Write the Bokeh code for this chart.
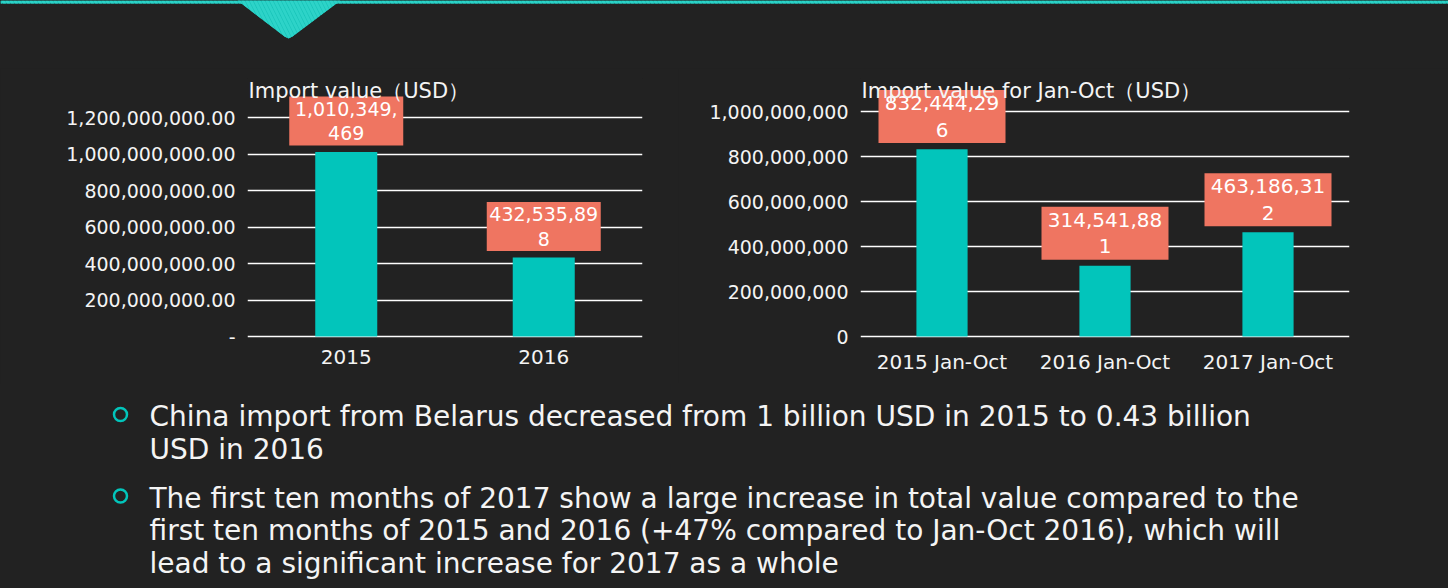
from bokeh.plotting import figure
from bokeh.layouts import column, row
from bokeh.models import ColumnDataSource, FixedTicker, Label, Range1d, FactorRange
from bokeh.transform import dodge
from bokeh.embed import file_html
from bokeh.resources import INLINE
from bokeh.core.properties import value

# ---------------- data ----------------
years = ["2015", "2016"]
import_value = [1010349469, 432535898]

jan_oct_periods = ["2015 Jan-Oct", "2016 Jan-Oct", "2017 Jan-Oct"]
jan_oct_value = [832444296, 314541881, 463186312]

left_ticks = [0, 200000000, 400000000, 600000000, 800000000, 1000000000, 1200000000]
left_tick_labels = ["-", "200,000,000.00", "400,000,000.00", "600,000,000.00",
                    "800,000,000.00", "1,000,000,000.00", "1,200,000,000.00"]
right_ticks = [0, 200000000, 400000000, 600000000, 800000000, 1000000000]
right_tick_labels = ["0", "200,000,000", "400,000,000", "600,000,000",
                     "800,000,000", "1,000,000,000"]

left_title = "Import value\uff08USD\uff09"
right_title = "Import value for Jan-Oct\uff08USD\uff09"

bullets = [
    ["China import from Belarus decreased from 1 billion USD in 2015 to 0.43 billion",
     "USD in 2016"],
    ["The first ten months of 2017 show a large increase in total value compared to the",
     "first ten months of 2015 and 2016 (+47% compared to Jan-Oct 2016), which will",
     "lead to a significant increase for 2017 as a whole"],
]

# ---------------- style ----------------
BG = "#222222"
TEAL = "#02C5BB"
SALMON = "#EF7561"
WHITE = "#F4F4F4"
FONT = "DejaVu Sans"
W = 1448
HEADER_H = 68
CHART_H = 315
TEXT_H = 205
B_TOP = 10      # frame top inside chart figure
B_BOTTOM = 45   # space under frame for category labels
ZERO_ABOVE_BOTTOM = 2  # px between frame bottom and the zero line


def wrap_label(v, n=10):
    s = f"{v:,}"
    return s[:n] + "\n" + s[n:] if len(s) > n else s


def make_chart(cats, vals, ticks, tick_labels, title, width, b_left, b_right,
               px_per_unit, lab_size, box_w, box_h, box_off_px, title_px_from_zero):
    frame_h = CHART_H - B_TOP - B_BOTTOM
    y_start = -ZERO_ABOVE_BOTTOM / px_per_unit
    y_end = (frame_h - ZERO_ABOVE_BOTTOM) / px_per_unit
    src = ColumnDataSource(dict(cat=cats, val=vals, lab=[wrap_label(v) for v in vals]))
    p = figure(x_range=FactorRange(*cats), y_range=Range1d(y_start, y_end),
               width=width, height=CHART_H, output_backend="svg", toolbar_location=None,
               min_border_left=b_left, min_border_right=b_right,
               min_border_top=B_TOP, min_border_bottom=B_BOTTOM)
    p.background_fill_color = BG
    p.border_fill_color = BG
    p.outline_line_color = None

    p.vbar(x="cat", top="val", bottom=0, width=0.314, source=src,
           fill_color=TEAL, line_color=None)

    off = box_off_px / px_per_unit
    p.rect(x="cat", y=dodge("val", off), width=box_w, height=box_h,
           width_units="screen", height_units="screen", source=src,
           fill_color=SALMON, line_color=None)
    p.text(x="cat", y=dodge("val", off), text="lab", source=src,
           text_align="center", text_baseline="middle", text_color="white",
           text_font=value(FONT), text_font_size=lab_size, text_line_height=1.1)

    ticker = FixedTicker(ticks=ticks)
    p.yaxis.ticker = ticker
    p.ygrid.ticker = ticker
    p.yaxis.major_label_overrides = {t: l for t, l in zip(ticks, tick_labels)}
    p.xgrid.grid_line_color = None
    p.ygrid.grid_line_color = "#FFFFFF"
    p.ygrid.grid_line_width = 1.5

    for ax in (p.xaxis, p.yaxis):
        ax.axis_line_color = None
        ax.major_tick_line_color = None
        ax.minor_tick_line_color = None
        ax.major_tick_out = 0
        ax.major_tick_in = 0
        ax.major_label_text_color = WHITE
        ax.major_label_text_font = FONT
    p.yaxis.major_label_text_font_size = "19px"
    p.xaxis.major_label_text_font_size = "20px"
    p.yaxis.major_label_standoff = 12
    p.xaxis.major_label_standoff = 11

    p.add_layout(Label(x=0, y=title_px_from_zero / px_per_unit, x_offset=1,
                       text=title, text_align="left", text_baseline="middle",
                       text_color=WHITE, text_font=FONT, text_font_size="21px"))
    return p


chart1 = make_chart(years, import_value, left_ticks, left_tick_labels, left_title,
                    width=678, b_left=247, b_right=36, px_per_unit=219 / 1.2e9,
                    lab_size="19px", box_w=114, box_h=49, box_off_px=31,
                    title_px_from_zero=246)
chart2 = make_chart(jan_oct_periods, jan_oct_value, right_ticks, right_tick_labels,
                    right_title, width=W - 678, b_left=182, b_right=99,
                    px_per_unit=225 / 1.0e9, lab_size="20px", box_w=127, box_h=53,
                    box_off_px=32.6, title_px_from_zero=246)

# ---------------- header ----------------
header = figure(width=W, height=HEADER_H, x_range=Range1d(0, W), y_range=Range1d(HEADER_H, 0),
                output_backend="svg", toolbar_location=None,
                x_axis_location=None, y_axis_location=None,
                min_border=0, min_border_left=0, min_border_right=0,
                min_border_top=0, min_border_bottom=0)
header.background_fill_color = BG
header.border_fill_color = BG
header.outline_line_color = None
header.grid.visible = False
stripe = dict(fill_color="#14C2B7", line_color=None, hatch_pattern="left_diagonal_line",
              hatch_color="#2DD3C8", hatch_weight=3, hatch_scale=8)
header.quad(left=0, right=W, top=0, bottom=3, **stripe)
header.patch([237, 340, 292, 288, 284], [0, 0, 36, 38, 36], **stripe)

# ---------------- bullet text ----------------
txt = figure(width=W, height=TEXT_H, x_range=Range1d(0, W), y_range=Range1d(TEXT_H, 0),
             output_backend="svg", toolbar_location=None,
             x_axis_location=None, y_axis_location=None,
             min_border=0, min_border_left=0, min_border_right=0,
             min_border_top=0, min_border_bottom=0)
txt.background_fill_color = BG
txt.border_fill_color = BG
txt.outline_line_color = None
txt.grid.visible = False

bullet_x, text_x = 120, 149
first_line_y = 33
line_gap = 32.5
para_gap = 49
lx, ly, lt, bx, by = [], [], [], [], []
y = first_line_y
for para in bullets:
    bx.append(bullet_x)
    by.append(y - 2)
    for i, line in enumerate(para):
        lx.append(text_x)
        ly.append(y)
        lt.append(line)
        if i < len(para) - 1:
            y += line_gap
    y += para_gap
txt.scatter(x=bx, y=by, marker="circle", size=13, fill_color=None,
            line_color=TEAL, line_width=2.5)
txt.text(x=lx, y=ly, text=lt, text_align="left", text_baseline="middle",
         text_color=WHITE, text_font=value(FONT), text_font_size="28px")

layout = column(header, row(chart1, chart2), txt)

html = file_html(layout, INLINE, title="China import from Belarus")
html = html.replace("<head>", "<head><style>html,body{background-color:#222222;}</style>", 1)
with open("out.html", "w") as f:
    f.write(html)
